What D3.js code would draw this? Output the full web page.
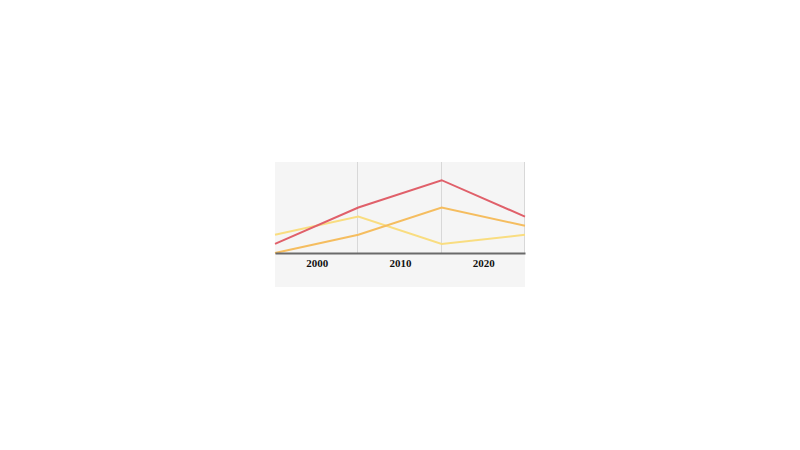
<!DOCTYPE html>
<html>
<head>
<meta charset="utf-8">
<script src="https://cdn.jsdelivr.net/npm/d3@7"></script>
<style>
  html, body { margin: 0; padding: 0; background: #ffffff; }
  svg { display: block; }
</style>
</head>
<body>
<svg id="chart" width="800" height="450"></svg>
<script>
// Data
const years = [1995, 2005, 2015, 2025];
const tickYears = [2000, 2010, 2020];
const gridYears = [2005, 2015, 2025];
const redSeries = [1, 5, 8, 4];
const orangeSeries = [0, 2, 5, 3];
const yellowSeries = [2, 4, 1, 2];
const seriesNames = ["red", "orange", "yellow"];
const seriesColors = ["#e0606a", "#f5bd5f", "#f9dd80"];

(function () {
  const svg = d3.select("#chart");
  const pLeft = 275, pRight = 525, pTop = 162, pBottom = 287, axisY = 253;

  svg.append("rect")
    .attr("x", pLeft).attr("y", pTop)
    .attr("width", pRight - pLeft).attr("height", pBottom - pTop)
    .attr("fill", "#f5f5f5");

  const x = d3.scaleLinear().domain([1995, 2025]).range([pLeft, pRight]);
  const y = d3.scaleLinear().domain([0, 10]).range([axisY, pTop]);

  // vertical gridlines
  svg.append("g").selectAll("line").data(gridYears).join("line")
    .attr("x1", d => Math.round(x(d)) - 0.5).attr("x2", d => Math.round(x(d)) - 0.5)
    .attr("y1", pTop).attr("y2", axisY)
    .attr("stroke", "#d8d8d8").attr("stroke-width", 1);

  const line = d3.line().x((d, i) => x(years[i])).y(d => y(d));
  const allSeries = [redSeries, orangeSeries, yellowSeries];
  [2, 1, 0].forEach(i => {
    svg.append("path")
      .datum(allSeries[i])
      .attr("d", line)
      .attr("fill", "none")
      .attr("stroke", seriesColors[i])
      .attr("stroke-width", 2)
      .attr("class", "series-" + seriesNames[i]);
  });

  // x axis
  const xAxis = d3.axisBottom(x)
    .tickValues(tickYears)
    .tickFormat(d3.format("d"))
    .tickSize(0)
    .tickPadding(6);
  const gx = svg.append("g").attr("transform", `translate(0,${axisY})`).call(xAxis);
  gx.select(".domain").attr("stroke", "#6a6a6a").attr("stroke-width", 2);
  gx.selectAll("text")
    .attr("font-family", "'Liberation Serif', serif")
    .attr("font-weight", "bold")
    .attr("font-size", 11)
    .attr("fill", "#111");
})();
</script>
</body>
</html>
